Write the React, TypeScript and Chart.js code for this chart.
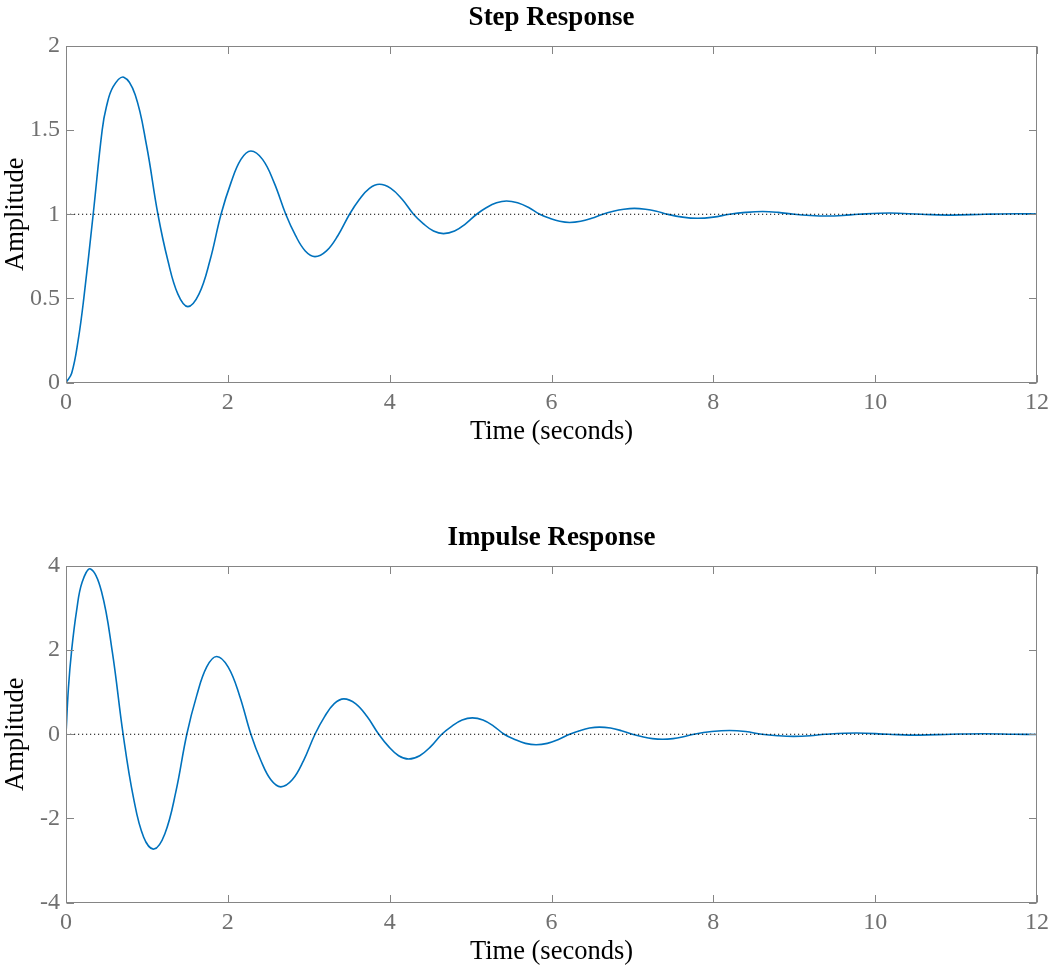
import React, { useEffect, useRef } from "react";
import { Chart, registerables } from "chart.js";

Chart.register(...registerables);

// ---- data ----
const timeTicks = [0, 2, 4, 6, 8, 10, 12];
const stepTicks = [0, 0.5, 1, 1.5, 2];
const impulseTicks = [-4, -2, 0, 2, 4];

const stepTime = [
  0, 0.07, 0.15, 0.22, 0.336, 0.447, 0.5, 0.583, 0.714,
  0.855, 0.995, 1.136, 1.259, 1.383, 1.506,
  1.643, 1.779, 1.916, 2.039, 2.162, 2.285,
  2.429, 2.572, 2.716, 2.836, 2.957, 3.077,
  3.219, 3.361, 3.504, 3.627, 3.75, 3.873,
  4.014, 4.154, 4.295, 4.418, 4.542, 4.665,
  4.802, 4.938, 5.075, 5.198, 5.321, 5.444,
  5.581, 5.718, 5.855, 5.978, 6.101, 6.224,
  6.361, 6.497, 6.634, 6.764, 6.894, 7.024,
  7.161, 7.297, 7.434, 7.62, 7.803, 8.0, 8.2, 8.4, 8.61, 8.8, 9.0, 9.2, 9.4,
  9.6, 9.79, 10.18, 10.57, 10.96, 11.35, 11.75, 12,
];
const stepAmp = [
  0, 0.055, 0.25, 0.5, 1.0, 1.5, 1.64, 1.758, 1.815,
  1.71, 1.41, 1.0, 0.725, 0.525, 0.451,
  0.525, 0.725, 1.0, 1.188, 1.326, 1.376,
  1.326, 1.188, 1.0, 0.874, 0.782, 0.748,
  0.782, 0.874, 1.0, 1.089, 1.154, 1.178,
  1.154, 1.089, 1.0, 0.943, 0.9, 0.885,
  0.9, 0.943, 1.0, 1.04, 1.068, 1.079,
  1.068, 1.04, 1.0, 0.976, 0.958, 0.951,
  0.958, 0.976, 1.0, 1.018, 1.03, 1.035,
  1.03, 1.018, 1.0, 0.983, 0.976, 0.983, 1.0, 1.011, 1.016, 1.011, 1.0, 0.993, 0.99,
  0.993, 1.0, 1.007, 1.0, 0.995, 1.0, 1.003, 1.001,
];
const stepFinal = [1, 1];

const impulseTime = [
  0, 0.03, 0.07, 0.131, 0.2, 0.304,
  0.438, 0.572, 0.706, 0.833, 0.96, 1.087,
  1.222, 1.358, 1.493, 1.616, 1.739, 1.862,
  2.003, 2.144, 2.285, 2.408, 2.532, 2.655,
  2.796, 2.936, 3.077, 3.196, 3.315, 3.434,
  3.578, 3.721, 3.865, 3.988, 4.111, 4.234,
  4.371, 4.507, 4.644, 4.77, 4.896, 5.022,
  5.153, 5.284, 5.415, 5.547, 5.678, 5.81,
  5.948, 6.086, 6.224, 6.347, 6.47, 6.593,
  6.729, 6.864, 7.0, 7.124, 7.248, 7.372,
  7.501, 7.63, 7.76, 7.98, 8.2, 8.4, 8.6, 8.8, 8.99, 9.2, 9.38,
  9.77, 10.16, 10.55, 10.94, 11.33, 11.72, 12,
];
const impulseAmp = [
  0, 1.1, 2.0, 2.94, 3.62, 3.93,
  3.4, 1.965, 0, -1.5, -2.45, -2.73,
  -2.364, -1.365, 0, 0.924, 1.6, 1.848,
  1.6, 0.924, 0, -0.625, -1.083, -1.25,
  -1.083, -0.625, 0, 0.42, 0.727, 0.84,
  0.727, 0.42, 0, -0.295, -0.511, -0.59,
  -0.511, -0.295, 0, 0.195, 0.338, 0.39,
  0.338, 0.195, 0, -0.125, -0.217, -0.25,
  -0.217, -0.125, 0, 0.085, 0.147, 0.17,
  0.147, 0.085, 0, -0.06, -0.104, -0.12,
  -0.104, -0.06, 0, 0.064, 0.09, 0.064, 0, -0.035, -0.05, -0.035, 0,
  0.03, 0, -0.02, 0, 0.012, 0, -0.006,
];
const impulseFinal = [0, 0];

// ---- styling ----
const SERIF = '"Liberation Serif", "Times New Roman", Times, serif';
const AXIS_GRAY = "#858585";
const LABEL_GRAY = "#707070";
const LINE_BLUE = "#0072BD";
const TICK_LEN = 7.5;

const framePlugin = {
  id: "matlabFrame",
  afterDraw(chart: any) {
    const { ctx, chartArea } = chart;
    const l = Math.round(chartArea.left) + 0.5;
    const r = Math.round(chartArea.right) - 0.5;
    const t = Math.round(chartArea.top) + 0.5;
    const b = Math.round(chartArea.bottom) - 0.5;
    ctx.save();
    ctx.strokeStyle = AXIS_GRAY;
    ctx.lineWidth = 1;
    ctx.strokeRect(l, t, r - l, b - t);
    ctx.beginPath();
    const xs = chart.scales.x;
    xs.ticks.forEach((tk: any) => {
      const px = Math.round(xs.getPixelForValue(tk.value)) + 0.5;
      ctx.moveTo(px, b);
      ctx.lineTo(px, b - TICK_LEN);
      ctx.moveTo(px, t);
      ctx.lineTo(px, t + TICK_LEN);
    });
    const ys = chart.scales.y;
    ys.ticks.forEach((tk: any) => {
      const py = Math.round(ys.getPixelForValue(tk.value)) + 0.5;
      ctx.moveTo(l, py);
      ctx.lineTo(l + TICK_LEN, py);
      ctx.moveTo(r, py);
      ctx.lineTo(r - TICK_LEN, py);
    });
    ctx.stroke();
    ctx.restore();
  },
};

function makeConfig(
  title: string,
  times: number[],
  amps: number[],
  finalVals: number[],
  yTicks: number[]
): any {
  const curve = times.map((t, i) => ({ x: t, y: amps[i] }));
  const ref = [
    { x: timeTicks[0], y: finalVals[0] },
    { x: timeTicks[timeTicks.length - 1], y: finalVals[1] },
  ];
  return {
    type: "line",
    data: {
      datasets: [
        {
          label: "final value",
          data: ref,
          borderColor: "#000000",
          borderWidth: 1,
          borderDash: [1.2, 2.8],
          pointRadius: 0,
          fill: false,
        },
        {
          label: title,
          data: curve,
          borderColor: LINE_BLUE,
          borderWidth: 1.6,
          pointRadius: 0,
          fill: false,
          tension: 0.4,
        },
      ],
    },
    options: {
      responsive: false,
      animation: false,
      events: [],
      layout: { padding: { left: 0, right: 14, top: 0, bottom: 0 } },
      plugins: {
        legend: { display: false },
        tooltip: { enabled: false },
        title: { display: false },
      },
      scales: {
        xTop: {
          type: "linear",
          position: "top",
          min: timeTicks[0],
          max: timeTicks[timeTicks.length - 1],
          grid: { display: false, drawTicks: false },
          border: { display: false },
          ticks: { display: false },
          title: {
            display: true,
            text: title,
            color: "#000000",
            font: { family: SERIF, size: 27, weight: "bold", lineHeight: 1.2 },
            padding: { top: 2, bottom: 0 },
          },
          afterFit: (s: any) => {
            s.height = 46;
          },
        },
        x: {
          type: "linear",
          position: "bottom",
          min: timeTicks[0],
          max: timeTicks[timeTicks.length - 1],
          afterBuildTicks: (s: any) => {
            s.ticks = timeTicks.map((v) => ({ value: v }));
          },
          afterFit: (s: any) => {
            s.height = 64.5;
          },
          grid: { display: false, drawTicks: false },
          border: { display: false },
          ticks: {
            color: LABEL_GRAY,
            font: { family: SERIF, size: 24 },
            padding: 6,
            maxRotation: 0,
            autoSkip: false,
            callback: (v: any) => String(v),
          },
          title: {
            display: true,
            text: "Time (seconds)",
            color: "#000000",
            font: { family: SERIF, size: 26.5, lineHeight: 1.1 },
            padding: { top: 0, bottom: 0 },
          },
        },
        y: {
          type: "linear",
          position: "left",
          min: yTicks[0],
          max: yTicks[yTicks.length - 1],
          afterBuildTicks: (s: any) => {
            s.ticks = yTicks.map((v) => ({ value: v }));
          },
          afterFit: (s: any) => {
            s.width = 66;
          },
          grid: { display: false, drawTicks: false },
          border: { display: false },
          ticks: {
            color: LABEL_GRAY,
            font: { family: SERIF, size: 24 },
            padding: 6,
            autoSkip: false,
            callback: (v: any) => String(v),
          },
          title: {
            display: true,
            text: "Amplitude",
            color: "#000000",
            font: { family: SERIF, size: 26.5, lineHeight: 0.9 },
            padding: { top: 4, bottom: 0 },
          },
        },
      },
    },
    plugins: [framePlugin],
  };
}

function ResponsePlot(props: {
  top: number;
  title: string;
  times: number[];
  amps: number[];
  finalVals: number[];
  yTicks: number[];
}) {
  const ref = useRef<HTMLCanvasElement | null>(null);
  useEffect(() => {
    if (!ref.current) return;
    const chart = new Chart(
      ref.current,
      makeConfig(props.title, props.times, props.amps, props.finalVals, props.yTicks)
    );
    return () => chart.destroy();
  }, []);
  return (
    <div style={{ position: "absolute", left: 0, top: props.top, width: 1055, height: 447 }}>
      <canvas ref={ref} width={1055} height={447} style={{ display: "block" }} />
    </div>
  );
}

export default function App() {
  return (
    <div style={{ position: "absolute", left: 0, top: 0, width: 1055, height: 967, background: "#ffffff" }}>
      <ResponsePlot
        top={0}
        title="Step Response"
        times={stepTime}
        amps={stepAmp}
        finalVals={stepFinal}
        yTicks={stepTicks}
      />
      <ResponsePlot
        top={520}
        title="Impulse Response"
        times={impulseTime}
        amps={impulseAmp}
        finalVals={impulseFinal}
        yTicks={impulseTicks}
      />
    </div>
  );
}
